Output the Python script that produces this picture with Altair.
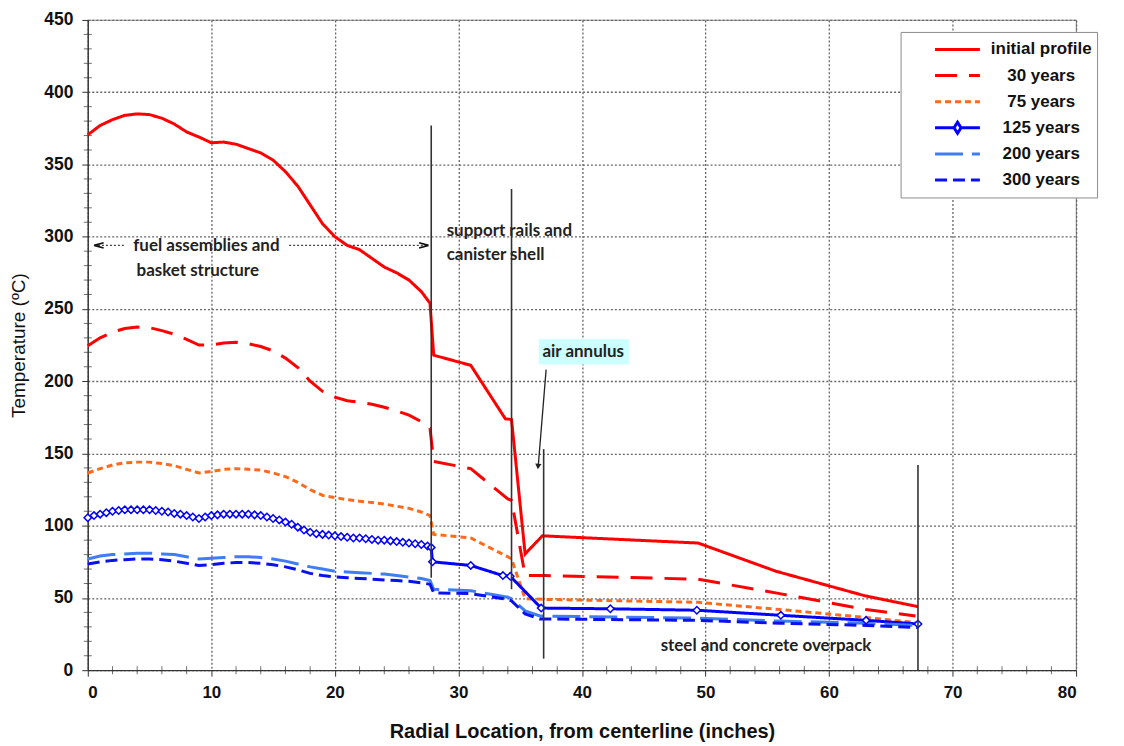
import altair as alt
import pandas as pd

# ---------------- data ----------------
series_names = ["initial profile", "30 years", "75 years", "125 years", "200 years", "300 years"]

core_x = [0, 1, 2, 3, 4, 5, 6, 7, 8, 9, 10, 11, 12, 13, 14, 15, 16, 17, 18, 19, 20,
          21, 22, 23, 24, 25, 26, 27, 27.7]

initial_x = core_x + [28, 31, 33.8, 34.3, 35.4, 36.8, 49.4, 55.7, 62.9, 67.2]
initial_y = [370.5, 377, 381, 384, 385, 384.5, 382, 378, 372.5, 369, 365, 365.5, 364, 361,
             358, 353, 345, 335, 322, 309, 300, 294, 291, 285, 279, 275, 270, 262, 254,
             218, 211, 174, 173.5, 80.5, 93, 88, 68.5, 51.5, 44]

y30_x = core_x + [28, 31, 34, 34.3, 35.4, 37, 49.4, 56, 63, 67]
y30_y = [224.5, 230, 234, 236.5, 237.5, 237, 235, 232.5, 229, 225, 225, 226.5, 227, 226,
         224, 221, 216, 209.5, 200, 193, 189, 186.5, 185.5, 184, 182, 179.5, 176.5, 172,
         167.5, 144.5, 139.5, 118.5, 117.5, 65.5, 65.5, 63, 53, 42, 37.5]

y75_x = core_x + [28, 31, 34, 34.3, 35.4, 37, 49.4, 56, 63, 67]
y75_y = [136.5, 139.5, 142, 143.5, 144, 144, 143, 141.5, 139, 136.5, 137.5, 139, 139.5,
         139, 138.5, 136.5, 134, 130, 125, 121, 119.5, 118, 117, 116, 115, 113.5, 112,
         109.5, 107, 94, 91.5, 78.5, 77, 49.5, 49, 47, 42, 36.5, 33]

y125_x = [0, 0.5, 1, 1.5, 2, 2.5, 3, 3.5, 4, 4.5, 5, 5.5, 6, 6.5, 7, 7.5, 8, 8.5, 9, 9.5,
          10, 10.5, 11, 11.5, 12, 12.5, 13, 13.5, 14, 14.5, 15, 15.5, 16, 16.5, 17, 17.5,
          18, 18.5, 19, 19.5, 20, 20.5, 21, 21.5, 22, 22.5, 23, 23.5, 24, 24.5, 25, 25.5,
          26, 26.5, 27, 27.5, 27.8, 27.9, 31, 33.6, 34.2, 36.7, 42.3, 49.3, 56.1, 63, 67.2]
y125_y = [105.5, 107, 108, 109, 110, 110.5, 111, 111, 111, 111, 111, 110.5, 110, 109.5,
          108.5, 108, 107, 106, 105, 106, 107, 107.5, 108, 108, 108, 108, 108, 107.5, 107,
          106, 105, 104, 102.5, 101, 99, 97, 95.5, 94.5, 94, 93.5, 93, 92.5, 92, 91.5,
          91.5, 91, 90.5, 90, 90, 89.5, 89, 88.5, 88, 87.5, 87, 86, 85, 75, 72.5, 65.5,
          65, 43, 42.5, 41.5, 38, 34.5, 32]

y200_x = core_x + [28, 31, 34, 34.3, 35.4, 36.6, 49.3, 56, 63, 67.2]
y200_y = [77, 79, 80, 80.5, 81, 81, 80.5, 80, 78.5, 77, 77.5, 78, 78.5, 78.5, 78, 77,
          75.5, 73.5, 71.5, 70, 68.5, 68, 67.5, 67, 66.5, 65.5, 64.5, 63.5, 62, 56, 55,
          50.5, 49.5, 41, 37.5, 36, 34, 32.5, 31]

y300_x = core_x + [28, 31, 34, 34.3, 35.4, 36.6, 49.3, 56, 63, 67.2]
y300_y = [73.5, 75, 76, 76.5, 77, 77, 76.5, 75.5, 74, 72.5, 73, 74, 74.5, 74.5, 74, 73,
          71.5, 69.5, 67, 65.5, 64.5, 64, 63.5, 63, 62.5, 62, 61.5, 60.5, 59.5, 53.5, 53,
          49, 48, 39, 35.5, 34.5, 32.5, 31, 29.5]

series_x = [initial_x, y30_x, y75_x, y125_x, y200_x, y300_x]
series_y = [initial_y, y30_y, y75_y, y125_y, y200_y, y300_y]

# annotations (data coordinates)
region_lines_x = [27.8, 34.3, 36.9, 67.2]
region_lines_top = [377, 333, 153, 142]
region_lines_bottom = [64, 56, 8, 0]

# ---------------- tables ----------------
rows = []
for name, xs, ys in zip(series_names, series_x, series_y):
    for i, (xv, yv) in enumerate(zip(xs, ys)):
        rows.append({"series": name, "x": xv, "y": yv, "order": i})
df = pd.DataFrame(rows)
markers = df[df.series == "125 years"]

vlines = pd.DataFrame({"x": region_lines_x, "y": region_lines_top, "y2": region_lines_bottom})

colors = ["#FF0000", "#FF0000", "#FF6A1A", "#0000FF", "#3F7CF6", "#0A10EE"]
dashes = [[1, 0], [22, 12], [6, 4], [1, 0], [28, 9], [12, 6]]
widths = [3, 3, 3, 2.5, 5, 5]

LEG_LINE = "M3.6,-0.55M3.6,0.55M1.55,0L5.64,0"
LEG_DIAMOND = "M3.6,-0.55M3.6,0.55M1.55,0L3.28,0M3.92,0L5.64,0M3.6,-0.5L3.92,0L3.6,0.5L3.28,0Z"
leg_shapes = [LEG_LINE, LEG_LINE, LEG_LINE, LEG_DIAMOND, LEG_LINE, LEG_LINE]

legend = alt.Legend(
    title=None, orient="none", legendX=815, legendY=12,
    strokeColor="#8c8c8c", fillColor="white", padding=5,
    labelFont="Liberation Sans", labelFontSize=17, labelFontWeight="bold",
    labelColor="#111", symbolSize=484, symbolType=LEG_LINE, rowPadding=1.2,
    labelOffset=111, labelAlign="center", symbolFillColor="white", symbolOpacity=1,
)

xscale = alt.Scale(domain=[0, 80], nice=False, zero=False)
yscale = alt.Scale(domain=[0, 450], nice=False)

FONT = "Liberation Sans"

x_axis = alt.Axis(
    title="Radial Location, from centerline (inches)",
    values=list(range(0, 81, 10)),
    labelOverlap=False, tickSize=6,
    labelFont=FONT, labelFontSize=17, labelFontWeight="bold", labelColor="#111",
    titleFont=FONT, titleFontSize=20, titleFontWeight="bold", titleColor="#111",
    titlePadding=21, labelPadding=8,
)
y_axis = alt.Axis(
    title="Temperature (ºC)",
    values=list(range(0, 451, 50)),
    labelOverlap=False, tickSize=6,
    labelFont=FONT, labelFontSize=17.5, labelFontWeight="bold", labelColor="#111",
    titleFont=FONT, titleFontSize=19, titleFontWeight="normal", titleColor="#111",
    titlePadding=15, labelPadding=9,
)

lines = alt.Chart(df).mark_line(strokeCap="butt").encode(
    x=alt.X("x:Q", scale=xscale, axis=x_axis),
    y=alt.Y("y:Q", scale=yscale, axis=y_axis),
    order="order:Q",
    color=alt.Color("series:O", scale=alt.Scale(domain=series_names, range=colors), legend=legend),
    strokeDash=alt.StrokeDash("series:O", scale=alt.Scale(domain=series_names, range=dashes), legend=legend),
    strokeWidth=alt.StrokeWidth("series:O", scale=alt.Scale(domain=series_names, range=widths), legend=legend),
)

# layer with no rows that only supplies legend symbols (diamond for 125 years)
legend_shapes = alt.Chart(df).transform_filter("false").mark_point(
    filled=True, fill="white", opacity=1
).encode(
    x="x:Q", y="y:Q",
    shape=alt.Shape("series:O", scale=alt.Scale(domain=series_names, range=leg_shapes), legend=legend),
)

pts = alt.Chart(markers).mark_point(
    shape="diamond", filled=True, fill="white", stroke="#0000FF", strokeWidth=1.5, size=55, opacity=1
).encode(x="x:Q", y="y:Q")

# minor ticks on the axes
minor_x = pd.DataFrame({"x": [v for v in range(0, 81, 2) if v % 10]})
minor_y = pd.DataFrame({"y": [v for v in range(0, 451, 10) if v % 50]})
mtx = alt.Chart(minor_x).mark_tick(color="#333", thickness=1, size=8).encode(
    x="x:Q", y=alt.value(652)
)
mty = alt.Chart(minor_y).mark_tick(color="#333", thickness=1, size=8).encode(
    y="y:Q", x=alt.value(0)
)

rules = alt.Chart(vlines).mark_rule(color="#333333", strokeWidth=1.6).encode(
    x="x:Q", y="y:Q", y2="y2:Q"
)

# double arrow for the fuel region
arrow_seg = pd.DataFrame({"x": [0.5, 16.3], "x2": [3.0, 27.5], "y": [294, 294]})
arrow_line = alt.Chart(arrow_seg).mark_rule(color="#444", strokeWidth=1.4, strokeDash=[2, 2]).encode(
    x="x:Q", x2="x2:Q", y="y:Q"
)
heads = pd.DataFrame({"x": [0.9, 27.2], "y": [294, 294], "k": ["l", "r"]})
head_l = alt.Chart(heads[heads.k == "l"]).mark_point(
    shape="M-1,0L1,-0.55M-1,0L1,0.55", filled=False, stroke="#111", strokeWidth=1.6, size=90, opacity=1
).encode(x="x:Q", y="y:Q")
head_r = alt.Chart(heads[heads.k == "r"]).mark_point(
    shape="M1,0L-1,-0.55M1,0L-1,0.55", filled=False, stroke="#111", strokeWidth=1.6, size=90, opacity=1
).encode(x="x:Q", y="y:Q")

# air annulus box + arrow
box = pd.DataFrame({"x": [36.5], "x2": [43.8], "y": [211.5], "y2": [229]})
box_mark = alt.Chart(box).mark_rect(fill="#CCFFFF").encode(x="x:Q", x2="x2:Q", y="y:Q", y2="y2:Q")
arr = pd.DataFrame({"x": [37.1], "y": [208], "x2": [36.45], "y2": [140]})
arr_line = alt.Chart(arr).mark_rule(color="#222", strokeWidth=1.3).encode(x="x:Q", y="y:Q", x2="x2:Q", y2="y2:Q")
arr_head = alt.Chart(pd.DataFrame({"x": [36.45], "y": [141]})).mark_point(
    shape="triangle-down", filled=True, color="#222", size=40, angle=6, opacity=1
).encode(x="x:Q", y="y:Q")

TFONT = "Lato"
center_txt = pd.DataFrame({
    "x": [9.6, 8.9, 40.1, 54.9],
    "y": [293.8, 276, 220, 16.5],
    "text": ["fuel assemblies and", "basket structure", "air annulus", "steel and concrete overpack"],
})
left_txt = pd.DataFrame({
    "x": [29.05, 29.05],
    "y": [304, 287],
    "text": ["support rails and", "canister shell"],
})
txt_c = alt.Chart(center_txt).mark_text(
    font=TFONT, fontSize=17, fontWeight="bold", color="#222", align="center", baseline="middle"
).encode(x="x:Q", y="y:Q", text="text:N")
txt_l = alt.Chart(left_txt).mark_text(
    font=TFONT, fontSize=17, fontWeight="bold", color="#222", align="left", baseline="middle"
).encode(x="x:Q", y="y:Q", text="text:N")

chart = alt.layer(
    box_mark, arrow_line, head_l, head_r, mtx, mty, lines, legend_shapes, pts, rules,
    arr_line, arr_head, txt_c, txt_l
).properties(
    width=991, height=652, background="white",
    autosize=alt.AutoSizeParams(type="none"),
    padding={"left": 80, "top": 11, "right": 40, "bottom": 74},
).configure_view(
    stroke="#8a8a8a", strokeWidth=1.2
).configure_axis(
    domainColor="#333", domainWidth=1.2, tickColor="#333",
    gridColor="#666666", gridDash=[2, 2], gridWidth=1.3,
)

chart.save("out.html", embed_options={"renderer": "svg", "actions": False})
